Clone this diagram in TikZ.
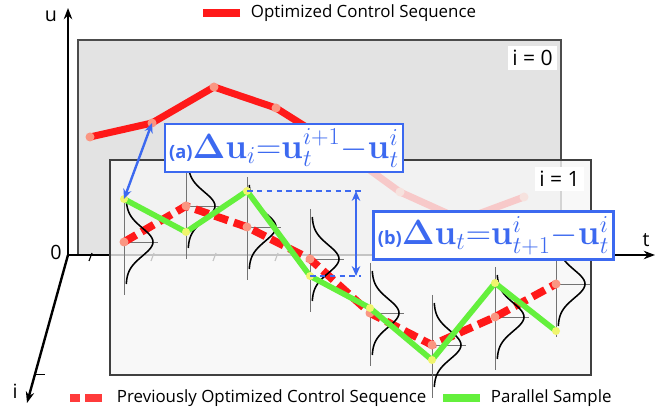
\documentclass[tikz,border=0pt]{standalone}
\usepackage[no-math]{fontspec}
\setmainfont{Open Sans}
\usepackage{amsmath}
\usepackage{tikz}
\usetikzlibrary{arrows.meta, positioning, calc}
\definecolor{optred}{RGB}{255,25,25}
\definecolor{dotsalmon}{RGB}{250,150,130}
\definecolor{sampgreen}{RGB}{100,240,60}
\definecolor{sampdot}{RGB}{240,245,110}
\definecolor{eqblue}{RGB}{60,105,240}
\definecolor{panelA}{RGB}{227,227,227}
\definecolor{panelB}{RGB}{246,246,246}

\begin{document}
\begin{tikzpicture}[x=0.025cm, y=-0.025cm, font=\fontsize{12}{14}\selectfont,
    axis/.style={line width=1.7pt, -{Stealth[length=8pt,width=6pt]}},
    tickmark/.style={line width=0.8pt},
    panelzero/.style={draw=black!70, line width=0.9pt, fill=panelA},
    panelone/.style={draw=black!75, line width=0.9pt, fill=panelB, fill opacity=0.8},
    optline/.style={optred, line width=5pt, line join=round},
    prevline/.style={optred, line width=5.5pt, dash pattern=on 10pt off 4.5pt},
    sampline/.style={sampgreen, line width=4pt, line join=round},
    gauss/.style={black, line width=1.1pt},
    colline/.style={black!55, line width=0.6pt},
    eqbox/.style={draw=eqblue, line width=1.7pt, fill=white, text=eqblue,
                  inner xsep=3pt, minimum height=1.2cm,
                  font=\fontsize{23}{27}\selectfont},
    eqarrow/.style={eqblue, line width=1.7pt,
                    {Stealth[length=7pt,width=6pt]}-{Stealth[length=7pt,width=6pt]}},
    eqdash/.style={eqblue, line width=1.4pt, dash pattern=on 4pt off 3pt},
    panellbl/.style={fill=white, inner sep=3pt, font=\fontsize{15}{18}\selectfont},
    axlbl/.style={font=\fontsize{14}{16}\selectfont}]

  \useasboundingbox (0,0) rectangle (670,411);

  %% ─── Axes end points ──────────────────────────────────────────────────────
  \coordinate (O) at (68,255);
  \coordinate (uEnd) at (68,8);
  \coordinate (tEnd) at (655,255);
  \coordinate (iEnd) at (27,403);

  %% ─── Iteration i = 0 ──────────────────────────────────────────────────────
  \draw[panelzero] (78,40) rectangle (561,255);
  \node[panellbl] (lblZero) at (532.5,58) {i = 0};

  \foreach \n/\px/\py in {1/90/137, 2/152/123, 3/214/87, 4/276/108,
                          5/338/147, 6/400/192, 7/462/220, 8/524/197}
    \coordinate (o\n) at (\px,\py);
  \draw[optline] (o1) \foreach \n in {2,...,8} { -- (o\n) };
  \foreach \n in {1,...,8} \fill[dotsalmon] (o\n) circle (4.5);

  % time axis sits behind the second panel
  \draw[axis] (O) -- (tEnd);
  \foreach \tx in {90,152,214,276}
    \draw[tickmark] (\tx+2,253) -- ++(-3,8);

  %% ─── Iteration i = 1 ──────────────────────────────────────────────────────
  \draw[panelone] (110,160) rectangle (591,375);
  \node[panellbl] (lblOne) at (559.5,179) {i = 1};

  \foreach \n/\cx/\my/\sy in {1/124/242/199, 2/186/206/232, 3/247/227/191,
                              4/310/259/276, 5/370/313/308, 6/432/345/360,
                              7/495/317/283, 8/556/284/331} {
    \coordinate (m\n) at (\cx,\my);
    \coordinate (s\n) at (\cx,\sy);
    \draw[colline] (\cx,\my-50) -- (\cx,\my+53);
    \draw[colline] (m\n) -- ++(34,0);
  }
  \draw[prevline] (m1) \foreach \n in {2,...,8} { -- (m\n) };
  \foreach \n in {1,...,8} \fill[dotsalmon] (m\n) circle (4.5);

  % sampling distribution per time step
  \foreach \n/\cx/\my in {1/124/242, 2/186/206, 3/247/227, 4/310/259,
                          5/370/313, 6/432/345, 7/495/317, 8/556/284}
    \draw[gauss] plot[variable=\s, domain=-42:42, samples=41]
      ({\cx+2+27*exp(-0.5*(\s/14)^2)}, {\my+\s});

  \draw[sampline] (s1) \foreach \n in {2,...,8} { -- (s\n) };
  \foreach \n in {1,...,8} \fill[sampdot] (s\n) circle (4);

  %% ─── Other axes ───────────────────────────────────────────────────────────
  \draw[axis] (O) -- (uEnd);
  \draw[axis] (O) -- (iEnd);
  \draw[tickmark] ($(O)!0.81!(iEnd)$) -- ++(10,0);
  \node[axlbl] (lblU) at (51,16) {u};
  \node[axlbl] (lblT) at (646,240) {t};
  \node[axlbl] (lblI) at (15,391) {i};
  \node[axlbl] (lblO) at (56,252) {0};

  %% ─── Differences ──────────────────────────────────────────────────────────
  \draw[eqarrow] (o2) -- (s1);

  \coordinate (bv) at (356,0);
  \coordinate (bx) at (361,0);
  \draw[eqdash] (s3) -- (s3 -| bx);
  \draw[eqdash] (s4) -- (s4 -| bx);
  \draw[eqarrow] (s3 -| bv) -- (s4 -| bv);

  \node[eqbox] (eqA) at (284,148)
    {{\fontsize{13}{15}\selectfont\bfseries (a)}$\boldsymbol{\Delta}\mathbf{u}_i{=}\mathbf{u}_t^{i+1}{-}\mathbf{u}_t^i$};
  \node[eqbox] (eqB) at (493.5,235.5)
    {{\fontsize{13}{15}\selectfont\bfseries (b)}$\boldsymbol{\Delta}\mathbf{u}_t{=}\mathbf{u}_{t+1}^{i}{-}\mathbf{u}_t^i$};

  %% ─── Legends ──────────────────────────────────────────────────────────────
  \node[anchor=west] (lgOpt) at (246,13) {Optimized Control Sequence};
  \draw[optred, line width=5pt] ($(lgOpt.west)+(-6,0)$) -- ++(-37,0);

  \node[anchor=west] (lgPrev) at (112,398) {Previously Optimized Control Sequence};
  \draw[optred!85, line width=5.5pt, dash pattern=on 12pt off 4pt]
    ($(lgPrev.west)+(-10,0)$) -- ++(-32,0);

  \node[anchor=west] (lgSamp) at (486,398) {Parallel Sample};
  \draw[sampgreen, line width=5pt] ($(lgSamp.west)+(-6,0)$) -- ++(-37,0);
\end{tikzpicture}
\end{document}
